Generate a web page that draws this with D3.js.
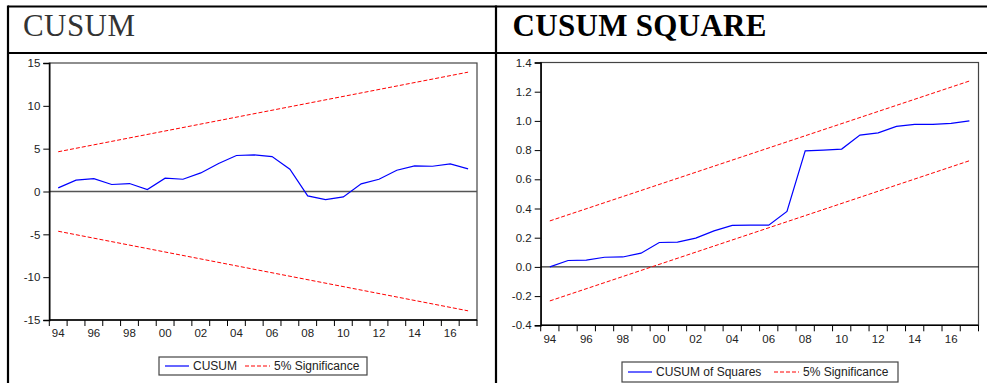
<!DOCTYPE html>
<html>
<head>
<meta charset="utf-8">
<script src="https://cdn.jsdelivr.net/npm/d3@7"></script>
<style>
  html, body { margin: 0; padding: 0; background: #fff; }
  svg { display: block; }
  .tick text { font-family: Arial, "Liberation Sans", sans-serif; font-size: 11.5px; fill: #222; }
  .legend text { font-family: Arial, "Liberation Sans", sans-serif; font-size: 12px; fill: #222; }
</style>
</head>
<body>
<svg id="chart" width="987" height="383"></svg>
<script>
// years on the x axis (one band per year)
const years = [1994, 1995, 1996, 1997, 1998, 1999, 2000, 2001, 2002, 2003, 2004, 2005,
               2006, 2007, 2008, 2009, 2010, 2011, 2012, 2013, 2014, 2015, 2016, 2017];
const xTickLabels = ["94", "96", "98", "00", "02", "04", "06", "08", "10", "12", "14", "16"];

// CUSUM panel
const cusum = [0.42, 1.32, 1.51, 0.82, 0.93, 0.23, 1.55, 1.43, 2.17, 3.27, 4.20, 4.27,
               4.08, 2.60, -0.51, -0.94, -0.63, 0.89, 1.43, 2.48, 3.00, 2.95, 3.22, 2.64];
const boundYears = [1994, 2017];
const cusumUpper = [4.64, 13.93];
const cusumLower = [-4.64, -13.93];
const cusumTicks = [15, 10, 5, 0, -5, -10, -15];

// CUSUM of squares panel
const cusumSq = [0.000, 0.044, 0.046, 0.066, 0.068, 0.094, 0.167, 0.170, 0.197, 0.247, 0.284, 0.286,
                 0.286, 0.380, 0.795, 0.800, 0.807, 0.903, 0.918, 0.962, 0.976, 0.976, 0.983, 1.000];
const sqUpper = [0.315, 1.273];
const sqLower = [-0.233, 0.727];
const sqTicks = ["1.4", "1.2", "1.0", "0.8", "0.6", "0.4", "0.2", "0.0", "-0.2", "-0.4"];

const svg = d3.select("#chart");

// table frame around the two panels
const frame = svg.append("g").attr("stroke", "#000").attr("stroke-width", 2.2);
frame.append("line").attr("x1", 8).attr("x2", 987).attr("y1", 6.5).attr("y2", 6.5);
frame.append("line").attr("x1", 8).attr("x2", 987).attr("y1", 53).attr("y2", 53);
frame.append("line").attr("x1", 8).attr("x2", 8).attr("y1", 5.5).attr("y2", 383);
frame.append("line").attr("x1", 496).attr("x2", 496).attr("y1", 5.5).attr("y2", 383);

svg.append("text")
  .attr("x", 23).attr("y", 36)
  .attr("font-family", "'Liberation Serif', 'Times New Roman', serif")
  .attr("font-size", 31)
  .attr("fill", "#333")
  .attr("textLength", 112)
  .text("CUSUM");

svg.append("text")
  .attr("x", 512.5).attr("y", 36)
  .attr("font-family", "'Liberation Serif', 'Times New Roman', serif")
  .attr("font-size", 31)
  .attr("font-weight", "bold")
  .attr("fill", "#000")
  .attr("textLength", 254)
  .text("CUSUM SQUARE");

function drawPanel(opt) {
  const g = svg.append("g");
  const x = d3.scaleBand().domain(years).range([opt.left, opt.right]);
  const cx = yr => x(yr) + x.bandwidth() / 2;
  const y = d3.scaleLinear().domain(opt.yDomain).range([opt.bottom, opt.top]);

  g.append("rect")
    .attr("x", opt.left).attr("y", opt.top)
    .attr("width", opt.right - opt.left).attr("height", opt.bottom - opt.top)
    .attr("fill", "#fff").attr("stroke", "#444").attr("stroke-width", 1.2);

  // zero line
  g.append("line")
    .attr("x1", opt.left).attr("x2", opt.right)
    .attr("y1", y(0)).attr("y2", y(0))
    .attr("stroke", opt.zeroColor).attr("stroke-width", opt.zeroWidth);

  // significance bounds
  const bline = d3.line().x((d, i) => cx(boundYears[i])).y(d => y(d));
  [opt.upper, opt.lower].forEach(b => {
    g.append("path").datum(b)
      .attr("d", bline)
      .attr("fill", "none").attr("stroke", "#ff0000")
      .attr("stroke-width", 1).attr("stroke-dasharray", "4,2");
  });

  // series
  g.append("path").datum(opt.values)
    .attr("d", d3.line().x((d, i) => cx(years[i])).y(d => y(d)))
    .attr("fill", "none").attr("stroke", "#0000ff").attr("stroke-width", 1.2);

  // y axis
  const yAxis = g.append("g")
    .attr("transform", `translate(${opt.left},0)`)
    .call(d3.axisLeft(y).tickValues(opt.ticks.map(Number)).tickSize(6).tickPadding(3)
      .tickFormat((d, i) => String(opt.ticks[i])));
  yAxis.select(".domain").attr("stroke", "#000").attr("stroke-width", 1.4);
  yAxis.selectAll(".tick line").attr("stroke", "#000");

  // x axis: ticks at band edges, labels at even-year band centres
  const xAxis = g.append("g").attr("transform", `translate(0,${opt.bottom})`);
  xAxis.append("line")
    .attr("x1", opt.left).attr("x2", opt.right)
    .attr("stroke", "#000").attr("stroke-width", 1.4);
  const edges = years.map(yr => x(yr)).concat([opt.right]);
  xAxis.selectAll("line.tk").data(edges).enter().append("line")
    .attr("class", "tk")
    .attr("x1", d => d).attr("x2", d => d)
    .attr("y1", 0).attr("y2", 6)
    .attr("stroke", "#000");
  const labelled = years.filter((yr, i) => i % 2 === 0);
  xAxis.selectAll("g.tick").data(labelled).enter().append("g")
    .attr("class", "tick")
    .append("text")
    .attr("x", d => cx(d)).attr("y", opt.labelDy)
    .attr("text-anchor", "middle")
    .text((d, i) => xTickLabels[i]);

  // legend
  const lg = g.append("g").attr("class", "legend");
  const L = opt.legend;
  lg.append("rect")
    .attr("x", L.x).attr("y", L.y).attr("width", L.w).attr("height", L.h)
    .attr("fill", "#fff").attr("stroke", "#444").attr("stroke-width", 1.2);
  const my = L.y + L.h / 2;
  lg.append("line").attr("x1", L.x + 6).attr("x2", L.x + 30).attr("y1", my).attr("y2", my)
    .attr("stroke", "#0000ff").attr("stroke-width", 1.2);
  lg.append("text").attr("x", L.x + 34).attr("y", my + 4.3).text(L.label);
  lg.append("line").attr("x1", L.sigX).attr("x2", L.sigX + 25).attr("y1", my).attr("y2", my)
    .attr("stroke", "#ff0000").attr("stroke-dasharray", "4,2");
  lg.append("text").attr("x", L.sigX + 29).attr("y", my + 4.3).text("5% Significance");
}

drawPanel({
  left: 49.3, right: 477, top: 63, bottom: 320,
  yDomain: [-15, 15], ticks: cusumTicks,
  values: cusum, upper: cusumUpper, lower: cusumLower,
  zeroColor: "#555", zeroWidth: 1.4, labelDy: 17,
  legend: { x: 159, y: 357, w: 208, h: 18, label: "CUSUM", sigX: 245 }
});

drawPanel({
  left: 540.7, right: 978.5, top: 62.5, bottom: 325.3,
  yDomain: [-0.4, 1.4], ticks: sqTicks,
  values: cusumSq, upper: sqUpper, lower: sqLower,
  zeroColor: "#000", zeroWidth: 1, labelDy: 18,
  legend: { x: 622, y: 362, w: 276, h: 20, label: "CUSUM of Squares", sigX: 774 }
});
</script>
</body>
</html>
